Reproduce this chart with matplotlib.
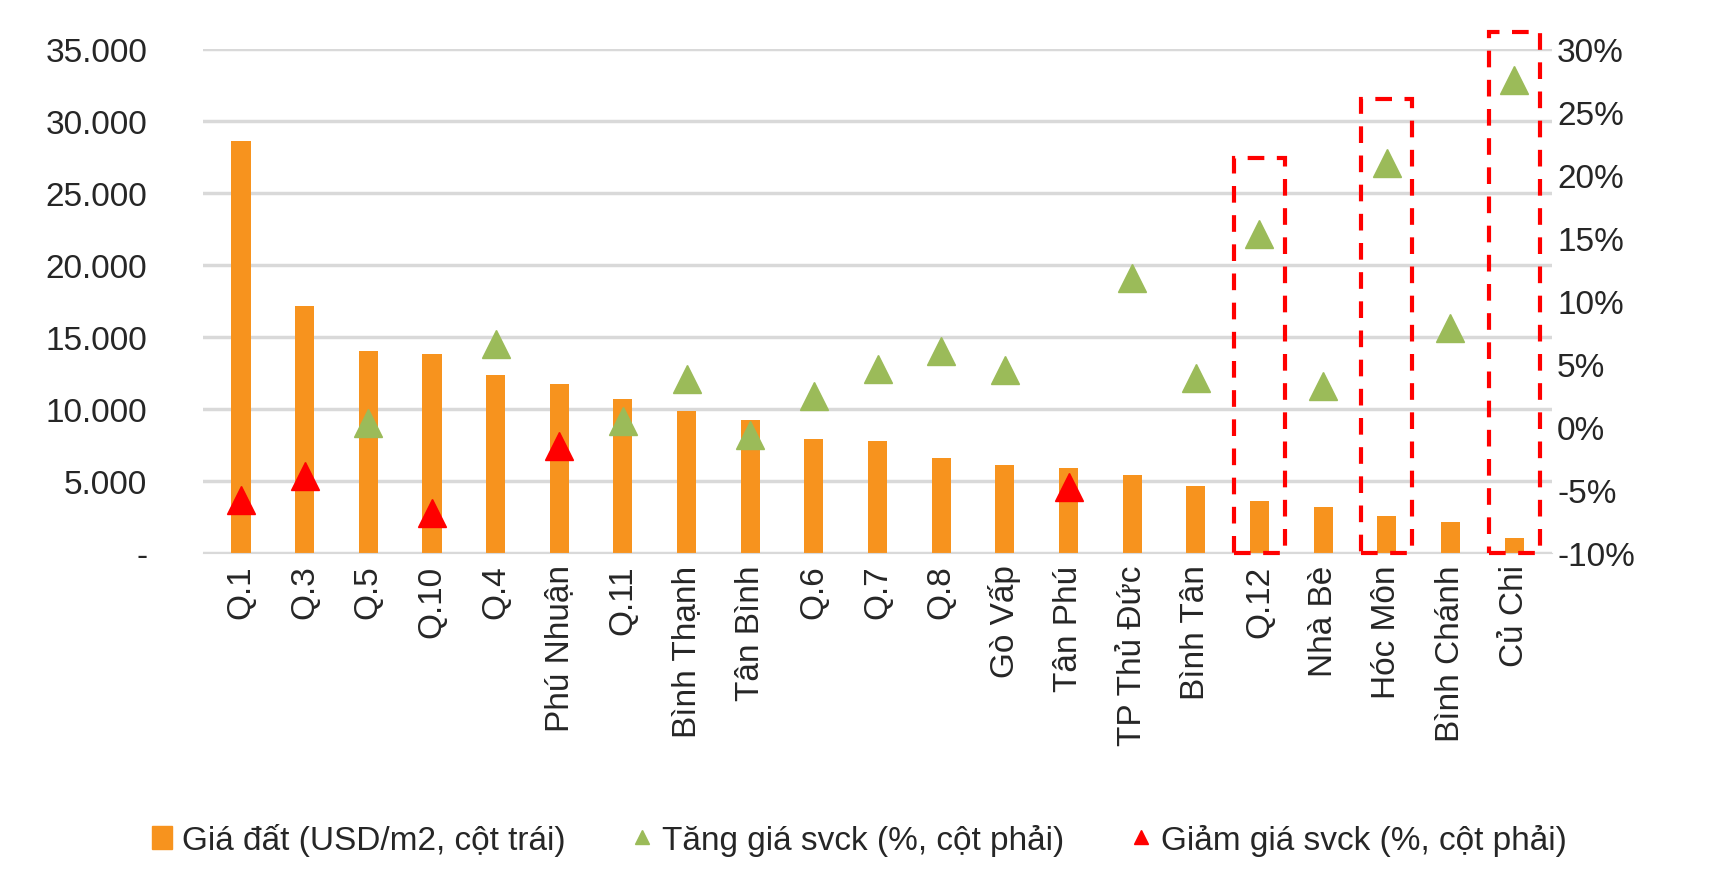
import matplotlib
matplotlib.use("Agg")
import matplotlib.pyplot as plt
from matplotlib.patches import Rectangle
from matplotlib.ticker import FuncFormatter
from matplotlib.lines import Line2D

plt.rcParams['font.family'] = ['Liberation Sans', 'DejaVu Sans']
plt.rcParams['text.color'] = '#262626'

districts = ['Q.1', 'Q.3', 'Q.5', 'Q.10', 'Q.4', 'Phú Nhuận', 'Q.11', 'Bình Thạnh', 'Tân Bình',
             'Q.6', 'Q.7', 'Q.8', 'Gò Vấp', 'Tân Phú', 'TP Thủ Đức', 'Bình Tân', 'Q.12',
             'Nhà Bè', 'Hóc Môn', 'Bình Chánh', 'Củ Chi']
land_price = [28600, 17150, 14000, 13850, 12400, 11770, 10700, 9850, 9230, 7900, 7770,
              6600, 6150, 5900, 5460, 4700, 3600, 3230, 2600, 2150, 1080]
change_pct = [-5.8, -3.9, 0.3, -6.8, 6.6, -1.5, 0.5, 3.8, -0.6, 2.5, 4.6, 6.0, 4.5, -4.7,
              11.8, 3.9, 15.3, 3.3, 20.9, 7.9, 27.5]
is_up = [False, False, True, False, True, False, True, True, True, True, True, True, True,
         False, True, True, True, True, True, True, True]
highlight = {'Q.12': 21.3, 'Hóc Môn': 26.0, 'Củ Chi': 31.3}

fig = plt.figure(figsize=(17.19, 8.87), dpi=100)
ax = fig.add_axes([0.118, 0.375, 0.785, 0.569])
x = list(range(len(districts)))
ax.bar(x, land_price, width=0.3, color='#F7931E', zorder=2)
ax.set_ylim(0, 35000)
ax.set_yticks(range(0, 35001, 5000))
ax.yaxis.set_major_formatter(FuncFormatter(lambda v, p: '-' if v == 0 else f'{int(v):,}'.replace(',', '.')))
ax.grid(True, axis='y', color='#D9D9D9', linewidth=2.5, zorder=0)
ax.set_axisbelow(True)
for s in ['top', 'right', 'left']:
    ax.spines[s].set_visible(False)
ax.spines['bottom'].set_color('#D9D9D9')
ax.set_xticks(x)
ax.set_xticklabels(districts, rotation=90, fontsize=24)
ax.tick_params(axis='y', labelsize=24, length=0, pad=40, labelcolor='#262626')
ax.tick_params(axis='x', length=0, pad=8, labelcolor='#262626')
ax.set_xlim(-0.6, len(districts) - 0.4)

ax2 = ax.twinx()
ax2.set_ylim(-10, 30)
ax2.set_yticks(range(-10, 31, 5))
ax2.yaxis.set_major_formatter(FuncFormatter(lambda v, p: f'{int(v)}%'))
ax2.tick_params(axis='y', labelsize=24, length=0, labelcolor='#262626')
for s in ax2.spines.values():
    s.set_visible(False)
for i, (v, up) in enumerate(zip(change_pct, is_up)):
    ax2.plot(i, v, marker='^', markersize=20, color='#9BBB59' if up else '#FF0000',
             linestyle='none', zorder=3)
for name, top in highlight.items():
    i = districts.index(name)
    ax2.add_patch(Rectangle((i - 0.4, -10), 0.8, top + 10, fill=False, edgecolor='#FF0000',
                            linestyle=(0, (4, 3)), linewidth=3, clip_on=False, zorder=4))

handles = [
    Rectangle((0, 0), 1, 1, color='#F7931E'),
    Line2D([], [], marker='^', color='#9BBB59', linestyle='none', markersize=10),
    Line2D([], [], marker='^', color='#FF0000', linestyle='none', markersize=10),
]
labels = ['Giá đất (USD/m2, cột trái)', 'Tăng giá svck (%, cột phải)', 'Giảm giá svck (%, cột phải)']
fig.legend(handles, labels, loc='lower center', bbox_to_anchor=(0.5, 0.0), ncol=3,
           frameon=False, fontsize=24, handlelength=0.6, handletextpad=0.3, columnspacing=2)

fig.savefig('out.png', dpi=100)
